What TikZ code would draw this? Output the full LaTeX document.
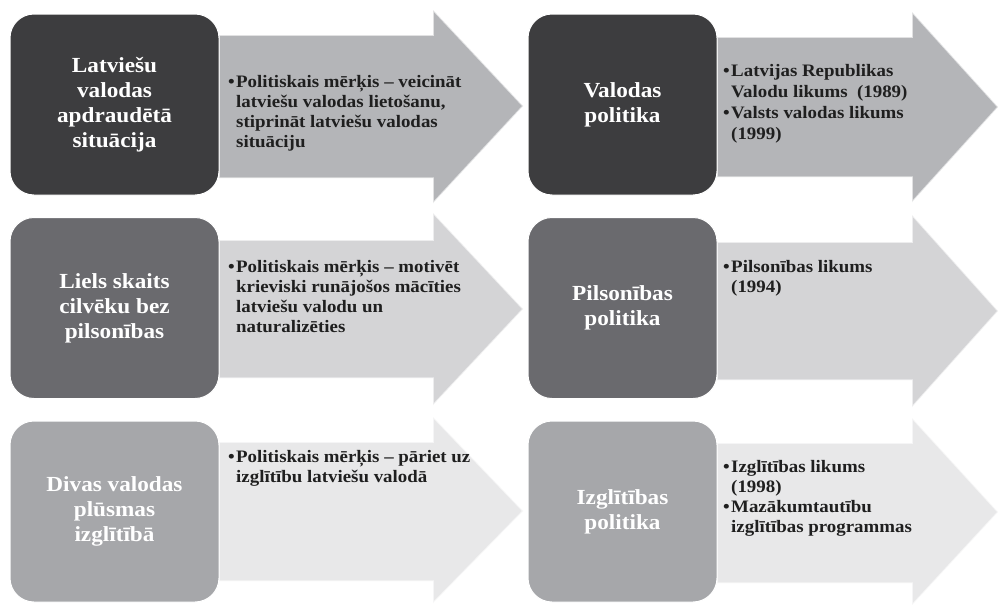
\documentclass[tikz,border=0pt]{standalone}
\usepackage{fontspec}
\setmainfont{Liberation Serif}[FakeStretch=1.08]
\definecolor{boxA}{HTML}{3D3D3F}
\definecolor{boxB}{HTML}{6A6A6E}
\definecolor{boxC}{HTML}{A6A7AA}
\definecolor{arrA}{HTML}{B4B5B8}
\definecolor{arrB}{HTML}{D4D4D6}
\definecolor{arrC}{HTML}{E8E8E9}
\newcommand\bul{\makebox[8pt][l]{\textbullet}}
\newcommand\ind{\hspace*{8pt}}
\tikzset{
  bigbox/.style={rounded corners=24pt, draw=white, line width=1pt, text=white,
    font=\fontsize{21.5}{25}\selectfont\bfseries, align=center,
    minimum height=181pt, inner sep=0pt},
  arrowshape/.style={draw=white, draw opacity=0.6, line width=1.5pt},
  bullettext/.style={anchor=north west, inner sep=0pt, align=left,
    font=\fontsize{17.5}{20}\selectfont\bfseries, text=black!88},
}
\begin{document}
\begin{tikzpicture}[x=1pt,y=-1pt]
\useasboundingbox[fill=white] (0,0) rectangle (998,605);
% arrows
\filldraw[arrowshape, fill=arrA] (219,35) -- (433,35) -- (433,10) -- (523,106) -- (433,203) -- (433,178) -- (219,178) -- cycle;
\filldraw[arrowshape, fill=arrA] (717,37) -- (912,37) -- (912,12) -- (998,107) -- (912,202) -- (912,177) -- (717,177) -- cycle;
\filldraw[arrowshape, fill=arrB] (219,240) -- (433,240) -- (433,213) -- (523,309) -- (433,405) -- (433,378) -- (219,378) -- cycle;
\filldraw[arrowshape, fill=arrB] (717,242) -- (912,242) -- (912,215) -- (998,311) -- (912,407) -- (912,380) -- (717,380) -- cycle;
\filldraw[arrowshape, fill=arrC] (219,442) -- (433,442) -- (433,417) -- (523,511) -- (433,603) -- (433,581) -- (219,581) -- cycle;
\filldraw[arrowshape, fill=arrC] (717,443) -- (912,443) -- (912,418) -- (998,512) -- (912,605) -- (912,583) -- (717,583) -- cycle;
% boxes
\node[bigbox, fill=boxA, minimum width=209pt] (b1) at (114.5,104.5) {Latviešu\\valodas\\apdraudētā\\situācija};
\node[bigbox, fill=boxA, minimum width=189pt] (b2) at (622.5,104.5) {Valodas\\politika};
\node[bigbox, fill=boxB, minimum width=209pt] (b3) at (114.5,308) {Liels skaits\\cilvēku bez\\pilsonības};
\node[bigbox, fill=boxB, minimum width=189pt] (b4) at (622.5,308) {Pilsonības\\politika};
\node[bigbox, fill=boxC, minimum width=209pt] (b5) at (114.5,511.5) {Divas valodas\\plūsmas\\izglītībā};
\node[bigbox, fill=boxC, minimum width=189pt] (b6) at (622.5,511.5) {Izglītības\\politika};
% texts
\node[bullettext] (t1) at (228,75) {\bul Politiskais mērķis – veicināt\\\ind latviešu valodas lietošanu,\\\ind stiprināt latviešu valodas\\\ind situāciju};
\node[bullettext, font=\fontsize{17.5}{21}\selectfont\bfseries] (t2) at (723,64) {\bul Latvijas Republikas\\\ind Valodu likums~ (1989)\\\bul Valsts valodas likums\\\ind (1999)};
\node[bullettext] (t3) at (228,260) {\bul Politiskais mērķis – motivēt\\\ind krieviski runājošos mācīties\\\ind latviešu valodu un\\\ind naturalizēties};
\node[bullettext] (t4) at (723,260) {\bul Pilsonības likums\\\ind (1994)};
\node[bullettext] (t5) at (228,450) {\bul Politiskais mērķis – pāriet uz\\\ind izglītību latviešu valodā};
\node[bullettext] (t6) at (723,460) {\bul Izglītības likums\\\ind (1998)\\\bul Mazākumtautību\\\ind izglītības programmas};
\end{tikzpicture}
\end{document}
